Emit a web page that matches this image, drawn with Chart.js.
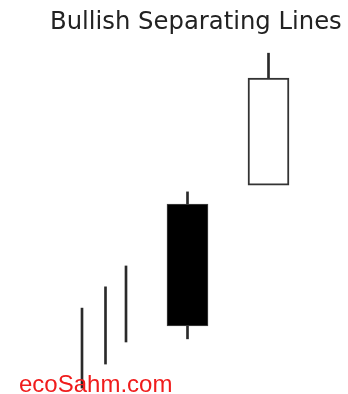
<!DOCTYPE html>
<html>
<head>
<meta charset="utf-8">
<script src="https://cdn.jsdelivr.net/npm/chart.js@4/dist/chart.umd.min.js"></script>
<style>
  html, body { margin: 0; padding: 0; background: #fff; }
  #wrap { position: relative; width: 348px; height: 394px; overflow: hidden; }
  #c { position: absolute; left: 0; top: 0; }
  #title { position: absolute; left: 50px; top: 6px; font-family: "DejaVu Sans", sans-serif; font-size: 24.3px; color: #222; white-space: nowrap; }
  #mark { position: absolute; left: 19px; top: 370px; font-family: "Liberation Sans", Arial, sans-serif; font-size: 24px; color: #f01c1c; white-space: nowrap; }
</style>
</head>
<body>
<div id="wrap">
  <canvas id="c" width="348" height="394"></canvas>
  <div id="title">Bullish Separating Lines</div>
  <div id="mark">ecoSahm.com</div>
</div>
<script>
// Sessions (horizontal position of each candle / line)
const sessions = [8.2, 10.55, 12.6, 18.75, 26.85];
// High and low for each session
const highs = [21.8, 27.2, 32.5, 51.3, 86.5];
const lows  = [1.5, 7.6, 13.2, 14.0, 54.0];
// Candle bodies (only last two sessions have bodies)
const bodySessions = [18.75, 26.85];
const opens  = [48.2, 53.0];
const closes = [17.3, 80.2];

const wickData = sessions.map((s, i) => ({ x: s, y: [lows[i], highs[i]] }));
const bodyData = bodySessions.map((s, i) => ({ x: s, y: [opens[i], closes[i]] }));

new Chart(document.getElementById('c'), {
  type: 'bar',
  data: {
    datasets: [
      {
        label: 'Body',
        data: bodyData,
        grouped: false,
        barThickness: 41,
        backgroundColor: bodyData.map((d, i) => closes[i] > opens[i] ? '#ffffff' : '#000000'),
        borderColor: bodyData.map((d, i) => closes[i] > opens[i] ? '#333333' : '#444444'),
        borderWidth: bodyData.map((d, i) => closes[i] > opens[i] ? 2 : 1),
        borderSkipped: false,
        order: 1
      },
      {
        label: 'Wick',
        data: wickData,
        grouped: false,
        barThickness: 2,
        backgroundColor: '#2a2a2a',
        borderWidth: 0,
        order: 2
      }
    ]
  },
  options: {
    responsive: false,
    animation: false,
    layout: { padding: 0 },
    plugins: { legend: { display: false }, title: { display: false }, tooltip: { enabled: false } },
    scales: {
      x: { type: 'linear', min: 0, max: 34.8, offset: false, display: false },
      y: { type: 'linear', min: 0, max: 100, display: false }
    }
  }
});
</script>
</body>
</html>
